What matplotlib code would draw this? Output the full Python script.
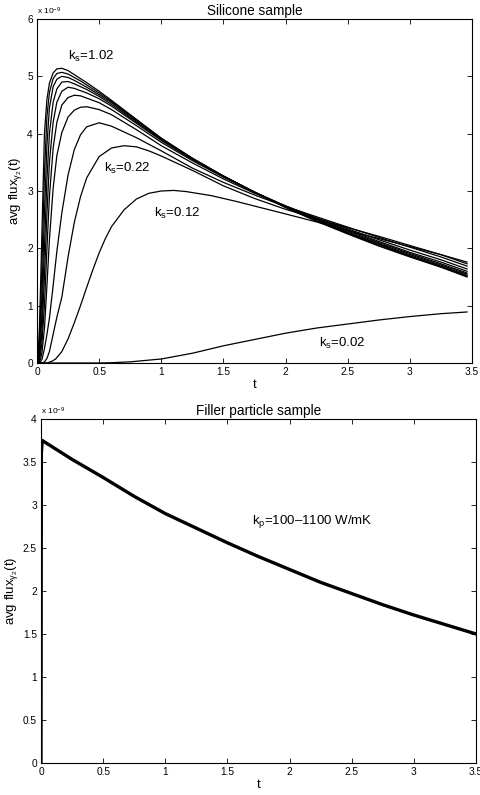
#!/usr/bin/env python3
import matplotlib
matplotlib.use("Agg")
import matplotlib.pyplot as plt

plt.rcParams['font.family'] = ['Liberation Sans', 'DejaVu Sans']
plt.rcParams['mathtext.fontset'] = 'custom'
plt.rcParams['mathtext.rm'] = 'Liberation Sans'
plt.rcParams['mathtext.it'] = 'Liberation Sans'

# Silicone sample, flux in units of 1e-9, one curve per k_s
t_fast = [0, 0.01, 0.02, 0.03, 0.04, 0.06, 0.08, 0.10, 0.13, 0.16, 0.20, 0.25, 0.30, 0.35,
          0.40, 0.50, 0.60, 0.80, 1.0, 1.25, 1.5, 1.75, 2.0, 2.25, 2.5, 2.75, 3.0, 3.25, 3.46]
flux_102 = [0, 0.15, 0.65, 1.45, 2.3, 4.0, 4.6, 4.88, 5.06, 5.13, 5.14, 5.10, 5.03, 4.96,
            4.89, 4.74, 4.58, 4.25, 3.92, 3.57, 3.26, 2.98, 2.71, 2.47, 2.25, 2.04, 1.85, 1.67, 1.50]
flux_092 = [0, 0.1, 0.45, 1.0, 1.75, 3.3, 4.3, 4.72, 4.96, 5.05, 5.07, 5.04, 4.98, 4.92,
            4.85, 4.71, 4.56, 4.24, 3.92, 3.57, 3.26, 2.98, 2.72, 2.48, 2.26, 2.05, 1.86, 1.68, 1.515]
flux_082 = [0, 0.06, 0.3, 0.7, 1.2, 2.6, 3.8, 4.45, 4.82, 4.95, 5.0, 4.98, 4.93, 4.87,
            4.81, 4.68, 4.54, 4.22, 3.91, 3.57, 3.26, 2.98, 2.72, 2.49, 2.27, 2.07, 1.87, 1.69, 1.53]
flux_072 = [0, 0.04, 0.2, 0.45, 0.85, 2.0, 3.2, 4.0, 4.55, 4.78, 4.90, 4.91, 4.87, 4.82,
            4.77, 4.65, 4.51, 4.20, 3.90, 3.56, 3.26, 2.98, 2.73, 2.50, 2.28, 2.08, 1.89, 1.71, 1.55]
flux_062 = [0, 0.02, 0.12, 0.3, 0.55, 1.5, 2.6, 3.5, 4.2, 4.55, 4.74, 4.81, 4.79, 4.75,
            4.71, 4.61, 4.48, 4.18, 3.88, 3.55, 3.25, 2.98, 2.73, 2.51, 2.30, 2.10, 1.91, 1.73, 1.57]
flux_052 = [0, 0.01, 0.06, 0.18, 0.35, 1.0, 2.0, 2.9, 3.75, 4.2, 4.5, 4.63, 4.67, 4.66,
            4.62, 4.54, 4.42, 4.14, 3.85, 3.53, 3.24, 2.98, 2.74, 2.52, 2.32, 2.12, 1.93, 1.76, 1.60]
flux_042 = [0, 0, 0.03, 0.08, 0.18, 0.6, 1.35, 2.15, 3.05, 3.62, 4.02, 4.29, 4.41, 4.46,
            4.47, 4.42, 4.33, 4.07, 3.79, 3.49, 3.21, 2.96, 2.74, 2.53, 2.34, 2.15, 1.97, 1.80, 1.64]
flux_032 = [0, 0, 0.01, 0.03, 0.06, 0.25, 0.5, 0.78, 1.35, 1.95, 2.62, 3.28, 3.72, 3.98,
            4.12, 4.19, 4.13, 3.93, 3.70, 3.40, 3.15, 2.93, 2.73, 2.55, 2.37, 2.19, 2.02, 1.85, 1.69]

t_022 = [0, 0.04, 0.06, 0.08, 0.10, 0.13, 0.16, 0.20, 0.25, 0.30, 0.35, 0.40, 0.50, 0.60,
         0.70, 0.80, 0.90, 1.0, 1.25, 1.5, 1.75, 2.0, 2.25, 2.5, 2.75, 3.0, 3.25, 3.46]
flux_022 = [0, 0, 0.02, 0.08, 0.2, 0.5, 0.8, 1.15, 1.85, 2.45, 2.9, 3.23, 3.6, 3.75,
            3.79, 3.77, 3.70, 3.61, 3.36, 3.09, 2.87, 2.68, 2.52, 2.36, 2.21, 2.05, 1.89, 1.73]

t_012 = [0, 0.08, 0.12, 0.15, 0.2, 0.25, 0.3, 0.35, 0.4, 0.45, 0.5, 0.55, 0.6, 0.7, 0.8,
         0.9, 1.0, 1.1, 1.2, 1.4, 1.6, 1.8, 2.0, 2.25, 2.5, 2.75, 3.0, 3.25, 3.46]
flux_012 = [0, 0, 0.03, 0.07, 0.2, 0.42, 0.7, 1.0, 1.32, 1.63, 1.92, 2.17, 2.38, 2.67, 2.86,
            2.96, 3.0, 3.01, 2.99, 2.92, 2.82, 2.71, 2.60, 2.46, 2.31, 2.17, 2.03, 1.89, 1.76]

t_002 = [0, 0.5, 0.6, 0.75, 1.0, 1.25, 1.5, 1.75, 2.0, 2.25, 2.5, 2.75, 3.0, 3.25, 3.46]
flux_002 = [0, 0, 0.005, 0.02, 0.07, 0.17, 0.30, 0.41, 0.52, 0.61, 0.68, 0.75, 0.81, 0.86, 0.89]

# Filler particle sample (all k_p curves overlap)
t_filler = [0, 0.003, 0.01, 0.25, 0.5, 0.75, 1.0, 1.25, 1.5, 1.75, 2.0, 2.25, 2.5, 2.75,
            3.0, 3.25, 3.5]
flux_filler = [0, 3.6, 3.75, 3.53, 3.32, 3.10, 2.90, 2.73, 2.56, 2.40, 2.25, 2.10, 1.97,
               1.84, 1.72, 1.61, 1.50]

fast_curves = [flux_102, flux_092, flux_082, flux_072, flux_062, flux_052, flux_042, flux_032]

xticks = [0, 0.5, 1, 1.5, 2, 2.5, 3, 3.5]
xticklabels = ['0', '0.5', '1', '1.5', '2', '2.5', '3', '3.5']


def matlab_style(ax):
    ax.tick_params(direction='in', top=True, right=True, length=3.5, width=0.6,
                   labelsize=7.3, pad=3)
    for s in ax.spines.values():
        s.set_linewidth(0.8)
    ax.set_xticks(xticks)
    ax.set_xticklabels(xticklabels)
    ax.set_xlim(0, 3.5)


fig = plt.figure(figsize=(4.81, 7.95), dpi=100)

# top panel
ax1 = fig.add_axes([0.0769, 0.5434, 0.9044, 0.4327])
for y in fast_curves:
    ax1.plot(t_fast, y, color='black', lw=0.9)
ax1.plot(t_022, flux_022, color='black', lw=0.9)
ax1.plot(t_012, flux_012, color='black', lw=0.9)
ax1.plot(t_002, flux_002, color='black', lw=0.9)
matlab_style(ax1)
ax1.set_ylim(0, 6)
ax1.set_yticks([0, 1, 2, 3, 4, 5, 6])
ax1.set_yticklabels(['0', '1', '2', '3', '4', '5', '6'])
ax1.set_title('Silicone sample', fontsize=9.8, pad=3)
ax1.set_xlabel('t', fontsize=9.5, labelpad=1)
ax1.set_ylabel(r'avg flux$_{\gamma_2}$(t)', fontsize=9.5, labelpad=2)
ax1.text(0.0, 1.006, r'x 10$^{-9}$', transform=ax1.transAxes, fontsize=6,
         ha='left', va='bottom')
ax1.text(0.25, 5.28, r'k$_s$=1.02', fontsize=9.5)
ax1.text(0.54, 3.33, r'k$_s$=0.22', fontsize=9.5)
ax1.text(0.94, 2.55, r'k$_s$=0.12', fontsize=9.5)
ax1.text(2.27, 0.28, r'k$_s$=0.02', fontsize=9.5)

# bottom panel
ax2 = fig.add_axes([0.0852, 0.0403, 0.9044, 0.4327])
ax2.plot(t_filler, flux_filler, color='black', lw=2.4)
matlab_style(ax2)
ax2.set_ylim(0, 4)
ax2.set_yticks([0, 0.5, 1, 1.5, 2, 2.5, 3, 3.5, 4])
ax2.set_yticklabels(['0', '0.5', '1', '1.5', '2', '2.5', '3', '3.5', '4'])
ax2.set_title('Filler particle sample', fontsize=9.8, pad=3)
ax2.set_xlabel('t', fontsize=9.5, labelpad=1)
ax2.set_ylabel(r'avg flux$_{\gamma_2}$(t)', fontsize=9.5, labelpad=2)
ax2.text(0.0, 1.006, r'x 10$^{-9}$', transform=ax2.transAxes, fontsize=6,
         ha='left', va='bottom')
ax2.text(1.7, 2.78, 'k$_p$=100\u20131100 W/mK', fontsize=9.5)

fig.savefig('out.png', dpi=100)
